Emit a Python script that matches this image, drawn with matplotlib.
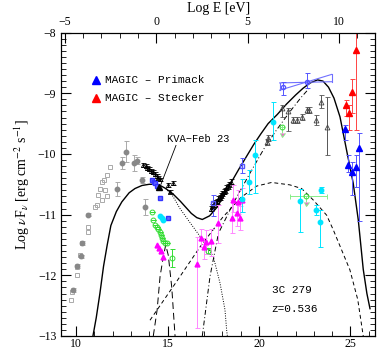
import numpy as np
import matplotlib
matplotlib.use("Agg")
from matplotlib import pyplot as plt

plt.rcParams['font.family'] = ['Liberation Serif', 'DejaVu Serif']
plt.rcParams['mathtext.fontset'] = 'stix'

LOG_H_EV = -14.383   # log10(h) in eV s, for the top axis

# ---------------- model curves (log nu, log nuFnu) ----------------
tot_x = [10.92, 11.1, 11.3, 11.5, 11.7, 11.9, 12.2, 12.5, 12.9, 13.22, 13.6, 14.0, 14.3, 14.6,
         14.9, 15.3, 15.7, 16.0, 16.3, 16.6, 16.9, 17.3, 17.7, 18.1, 18.5, 18.9, 19.3, 19.7,
         20.1, 20.5, 21.0, 21.5, 22.0, 22.4, 22.8, 23.2, 23.5, 23.8, 24.1, 24.43, 24.79,
         25.15, 25.43, 25.7, 25.9, 26.07]
tot_y = [-13.0, -12.7, -12.3, -11.85, -11.5, -11.18, -10.95, -10.79, -10.64, -10.57, -10.52,
         -10.5, -10.5, -10.52, -10.57, -10.66, -10.78, -10.88, -10.98, -11.05, -11.08, -11.02,
         -10.88, -10.68, -10.46, -10.25, -10.05, -9.85, -9.67, -9.5, -9.35, -9.18, -9.03,
         -8.92, -8.83, -8.78, -8.8, -8.9, -9.08, -9.39, -9.94, -10.48, -11.09, -11.9, -12.3,
         -12.55]

syn_x = [14.9, 15.3, 15.68, 16.2, 16.78, 17.2, 17.5, 17.87, 18.14, 18.23, 18.27]
syn_y = [-10.57, -10.7, -10.9, -11.12, -11.36, -11.55, -11.69, -12.13, -12.57, -12.9, -13.0]

disk_x = [14.22, 14.43, 14.59, 14.77, 14.9, 15.04, 15.23, 15.41]
disk_y = [-13.0, -12.57, -12.02, -11.69, -11.5, -11.67, -12.2, -13.0]

ssc_x = [14.04, 15.5, 16.78, 18.0, 19.0, 19.87, 20.69, 21.69, 22.33, 22.97, 23.7, 24.06,
         24.97, 25.4, 25.7]
ssc_y = [-12.74, -12.1, -11.53, -11.05, -10.72, -10.53, -10.47, -10.51, -10.57, -10.76,
         -11.01, -11.25, -11.91, -12.4, -13.0]

ec_x = [16.9, 17.32, 17.78, 18.6, 19.5, 20.3, 20.97, 21.7, 22.3, 22.8]
ec_y = [-13.0, -12.02, -11.31, -10.81, -10.32, -9.9, -9.6, -9.3, -9.07, -8.9]

# ---------------- data ----------------
# historical radio / mm (grey filled)
grf_x = [12.73, 12.5, 13.17, 13.35, 12.26, 13.59, 13.77, 10.67, 10.31, 10.27, 10.04, 9.85]
grf_y = [-9.96, -10.15, -10.15, -10.11, -10.58, -10.43, -10.88, -11.0, -11.47, -11.69, -11.85, -12.24]
grf_e = [0.17, 0.1, 0.13, 0.06, 0.12, 0.05, 0.13, 0.03, 0.03, 0.03, 0.03, 0.03]

# historical (grey open)
gro_x = [11.86, 11.68, 11.55, 11.44, 11.31, 11.58, 11.22, 11.68, 11.40, 11.13, 11.04, 10.67,
         10.67, 10.31, 10.22, 10.07, 10.07, 9.77, 9.71]
gro_y = [-10.21, -10.35, -10.43, -10.47, -10.57, -10.59, -10.68, -10.70, -10.76, -10.84,
         -10.87, -11.2, -11.28, -11.47, -11.67, -11.86, -12.0, -12.27, -12.4]

# optical triangles (black open)
opt_x = [13.68, 13.8, 13.9, 14.0, 14.1, 14.2, 14.3, 14.4, 14.5, 14.6, 15.04, 15.32, 15.14]
opt_y = [-10.18, -10.2, -10.23, -10.25, -10.28, -10.3, -10.33, -10.36, -10.39, -10.42,
         -10.51, -10.48, -10.62]

kva_x = [14.55]
kva_y = [-10.54]

blue_x = [14.14, 14.24, 14.32, 14.41, 14.59, 15.01]
blue_y = [-10.43, -10.46, -10.48, -10.53, -10.73, -11.05]

bluee_x = [17.5, 19.05]
bluee_y = [-10.81, -10.2]
bluee_lo = [0.22, 0.12]
bluee_hi = [0.13, 0.13]

cyl_x = [14.59, 14.68, 14.77]
cyl_y = [-11.03, -11.06, -11.09]

grn_x = [14.14, 14.22, 14.32, 14.41, 14.5, 14.59, 14.63, 14.68, 14.77, 14.86, 14.99, 15.23, 17.23]
grn_y = [-10.95, -11.09, -11.17, -11.2, -11.23, -11.28, -11.34, -11.39, -11.43, -11.47,
         -11.47, -11.72, -11.6]
grn_e = [0, 0, 0, 0, 0, 0, 0, 0, 0, 0, 0, 0.15, 0.05]

# green upper limits
grnul_x = [21.24, 22.57]
grnul_y = [-9.55, -10.70]
grnul_xlo = [0.0, 0.88]
grnul_xhi = [0.0, 1.13]

# magenta
mag_x = [14.41, 14.52, 14.63, 14.77]
mag_y = [-11.50, -11.55, -11.60, -11.70]

mage_x = [16.6, 16.83, 17.01, 17.1, 17.38, 17.78, 18.51, 18.78, 18.96, 18.6, 18.87, 19.05]
mage_y = [-11.82, -11.39, -11.53, -11.45, -11.43, -11.14, -11.06, -10.98, -11.06, -10.76,
          -10.79, -10.76]
mage_lo = [1.05, 0.15, 0.2, 0.2, 0.25, 0.33, 0.25, 0.2, 0.2, 0.2, 0.2, 0.2]
mage_hi = [0.45, 0.15, 0.15, 0.2, 0.2, 0.3, 0.3, 0.2, 0.2, 0.25, 0.2, 0.2]

# x-ray (black open, with small errors)
xr_x = [17.35, 17.45, 17.55, 17.62, 17.7, 17.78, 17.85, 17.92, 18.0, 18.08, 18.15, 18.22,
        18.3, 18.38, 18.45]
xr_y = [-10.90, -10.86, -10.84, -10.8, -10.78, -10.74, -10.72, -10.68, -10.65, -10.62,
        -10.6, -10.56, -10.53, -10.5, -10.46]

# cyan with error bars
cy_x = [19.05, 19.45, 19.78, 20.74, 22.24, 23.11, 23.33, 23.37]
cy_y = [-10.75, -10.46, -10.02, -9.47, -10.78, -10.92, -11.12, -10.59]
cy_lo = [0.2, 0.2, 0.63, 0.3, 0.5, 0.08, 0.41, 0.05]
cy_hi = [0.33, 0.2, 0.25, 0.33, 0.21, 0.08, 0.2, 0.05]

# EGRET (black open triangles)
eg_x = [20.45, 20.51, 21.24, 21.6, 21.87, 22.06, 22.33, 22.61, 22.75, 23.11, 23.37, 23.70]
eg_y = [-9.80, -9.74, -9.25, -9.30, -9.44, -9.44, -9.39, -9.28, -9.28, -9.44, -9.14, -9.55]
eg_lo = [0.05, 0.05, 0.14, 0.32, 0.05, 0.05, 0.05, 0.05, 0.05, 0.08, 0.11, 0.47]
eg_hi = [0.05, 0.05, 0.05, 0.06, 0.05, 0.05, 0.05, 0.05, 0.05, 0.08, 0.11, 0.49]

# EGRET bowtie and points (blue)
bow_x = [21.13, 23.97]
bow_a = [-8.95, -8.69]
bow_b = [-8.83, -8.81]
egb_x = [21.33, 22.61]
egb_y = [-8.89, -8.81]
egb_lo = [0.14, 0.1]
egb_hi = [0.08, 0.14]

# MAGIC
mp_x = [24.7, 24.88, 25.1, 25.28, 25.46]
mp_y = [-9.59, -10.18, -10.29, -10.21, -9.91]
mp_lo = [0.18, 0.11, 0.38, 0.33, 1.2]
mp_hi = [0.07, 0.16, 0.16, 0.2, 0.25]

ms_x = [24.74, 24.92, 25.1, 25.30]
ms_y = [-9.19, -9.33, -8.98, -8.29]
ms_lo = [0.19, 0.28, 0.35, 1.31]
ms_hi = [0.08, 0.14, 0.22, 0.6]

# ---------------- plot ----------------
fig = plt.figure(figsize=(3.82, 3.5), dpi=100)
ax = fig.add_axes([0.16, 0.04, 0.822, 0.867])

ax.plot(tot_x, tot_y, color='black', lw=1.0)
ax.plot(syn_x, syn_y, color='black', lw=0.7, ls=(0, (1, 1.5)))
ax.plot(disk_x, disk_y, color='black', lw=0.7, ls=(0, (7, 4)))
ax.plot(ssc_x, ssc_y, color='black', lw=0.7, ls=(0, (4, 3)))
ax.plot(ec_x, ec_y, color='black', lw=0.7, ls=(0, (5, 2.5, 1, 2.5)))

eb = dict(elinewidth=0.7, capsize=1.8, capthick=0.7, ls='none')

ax.errorbar(grf_x, grf_y, yerr=grf_e, fmt='o', ms=3.2, color='#888888', ecolor='#aaaaaa', **eb)
ax.plot(gro_x, gro_y, 's', ms=3.2, mfc='none', mec='#aaaaaa', mew=0.7)

ax.errorbar(opt_x, opt_y, yerr=0.03, fmt='^', ms=3, mfc='none', mec='black', mew=0.6,
            ecolor='black', **eb)
ax.errorbar(xr_x, xr_y, yerr=0.04, fmt='^', ms=3, mfc='none', mec='black', mew=0.6,
            ecolor='black', **eb)
ax.errorbar(eg_x, eg_y, yerr=[eg_lo, eg_hi], fmt='^', ms=3.5, mfc='none', mec='#444444',
            mew=0.6, ecolor='#555555', **eb)

ax.plot(blue_x, blue_y, 's', ms=3, color='#3333ff', mfc='#6666ff')
ax.errorbar(bluee_x, bluee_y, yerr=[bluee_lo, bluee_hi], fmt='s', ms=2.5, mfc='none',
            mec='#5555ff', ecolor='#5555ff', **eb)
ax.plot(cyl_x, cyl_y, 'o', ms=3.2, color='#00e5ff')

ax.errorbar(grn_x, grn_y, yerr=grn_e, fmt='o', ms=3.5, mfc='none', mec='#33dd33', mew=0.7,
            ecolor='#33dd33', **eb)
ax.errorbar(grnul_x, grnul_y, xerr=[grnul_xlo, grnul_xhi], yerr=0.1, uplims=True, fmt='o',
            ms=3.5, mfc='none', mec='#33dd33', mew=0.7, ecolor='#88ee88', **eb)

ax.plot(mag_x, mag_y, '^', ms=3.5, color='#ff00ff')
ax.errorbar(mage_x, mage_y, yerr=[mage_lo, mage_hi], fmt='^', ms=3.5, color='#ff00ff',
            ecolor='#ff88ff', **eb)

ax.errorbar(cy_x, cy_y, yerr=[cy_lo, cy_hi], fmt='o', ms=3.2, color='#00e5ff',
            ecolor='#00e5ff', **eb)

ax.plot([bow_x[0], bow_x[1]], [bow_a[0], bow_a[1]], color='#7070ff', lw=0.8)
ax.plot([bow_x[0], bow_x[1]], [bow_b[0], bow_b[1]], color='#7070ff', lw=0.8)
ax.plot([bow_x[0], bow_x[0]], [bow_a[0], bow_b[0]], color='#7070ff', lw=0.8)
ax.plot([bow_x[1], bow_x[1]], [bow_a[1], bow_b[1]], color='#7070ff', lw=0.8)
ax.errorbar(egb_x, egb_y, yerr=[egb_lo, egb_hi], fmt='o', ms=3, mfc='none', mec='#5555ff',
            ecolor='#5555ff', **eb)

ax.errorbar(mp_x, mp_y, yerr=[mp_lo, mp_hi], fmt='^', ms=5, color='#0000ff',
            ecolor='#5555ff', **eb)
ax.errorbar(ms_x, ms_y, yerr=[ms_lo, ms_hi], fmt='^', ms=5, color='#ff0000',
            ecolor='#ff4444', **eb)

ax.plot(kva_x, kva_y, '^', ms=5, color='black')

# legend-like labels
mono = ['Liberation Mono', 'DejaVu Sans Mono']
ax.plot([11.1], [-8.78], '^', ms=5.5, color='#0000ff')
ax.plot([11.1], [-9.08], '^', ms=5.5, color='#ff0000')
ax.text(11.6, -8.78, 'MAGIC \u2013 Primack', family=mono, fontsize=8, va='center')
ax.text(11.6, -9.08, 'MAGIC \u2013 Stecker', family=mono, fontsize=8, va='center')
ax.text(14.95, -9.84, 'KVA\u2212Feb 23', family=mono, fontsize=7.5, va='bottom')
ax.plot([15.46, 14.64], [-9.86, -10.5], color='black', lw=0.6)
ax.text(20.69, -12.25, '3C 279', family=mono, fontsize=8, va='center')
ax.text(20.69, -12.55, 'z=0.536', family=mono, fontsize=8, va='center')

ax.set_xlim(9.18, 26.35)
ax.set_ylim(-13, -8)
ax.set_xticks([10, 15, 20, 25])
ax.set_xticks(np.arange(10, 27, 1), minor=True)
ax.set_yticks([-13, -12, -11, -10, -9, -8])
ax.set_yticks(np.arange(-13, -7.95, 0.1), minor=True)
ax.set_yticklabels(['\u221213', '\u221212', '\u221211', '\u221210', '\u22129', '\u22128'])
ax.tick_params(which='both', direction='in', right=True, labelsize=8.5)
ax.tick_params(which='major', length=7, width=0.8)
ax.tick_params(which='minor', length=3.5, width=0.6)
ax.tick_params(axis='x', top=False, pad=1.5)
ax.set_ylabel(r'Log $\nu$F$_\nu$ [erg cm$^{-2}$ s$^{-1}$]', fontsize=10, labelpad=4)

top = ax.twiny()
top.set_xlim(9.18 + LOG_H_EV, 26.35 + LOG_H_EV)
top.set_xticks([-5, 0, 5, 10])
top.set_xticklabels(['\u22125', '0', '5', '10'])
top.set_xticks(np.arange(-5, 12, 1), minor=True)
top.tick_params(which='both', direction='in', labelsize=8.5)
top.tick_params(which='major', length=7, width=0.8)
top.tick_params(which='minor', length=3.5, width=0.6)
top.set_xlabel('Log E [eV]', fontsize=10, labelpad=3)

fig.savefig('out.png', dpi=100)
